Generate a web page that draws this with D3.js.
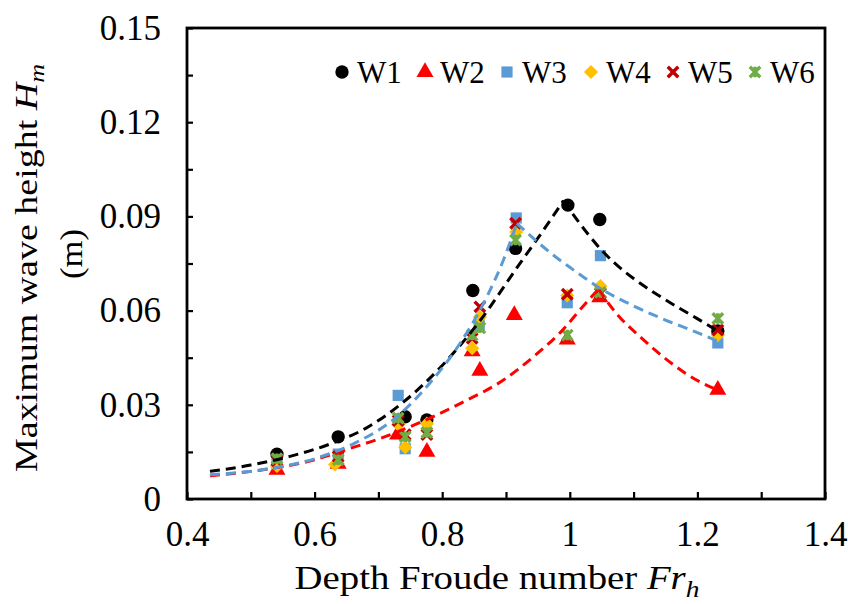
<!DOCTYPE html>
<html>
<head>
<meta charset="utf-8">
<script src="https://cdn.jsdelivr.net/npm/d3@7"></script>
<style>
  html, body { margin: 0; padding: 0; background: #fff; }
  svg { display: block; }
  text { font-family: "Liberation Serif", "Times New Roman", serif; fill: #000; }
</style>
</head>
<body>
<svg id="chart" width="848" height="604"></svg>
<script>
// Maximum wave height against depth Froude number, six wave cases
const seriesNames = ["W1", "W2", "W3", "W4", "W5", "W6"];
const seriesColors = ["#000000", "#FF0000", "#5B9BD5", "#FFC000", "#C00000", "#70AD47"];

const w1Fr = [0.541, 0.637, 0.742, 0.776, 0.848, 0.915, 0.997, 1.047, 1.232];
const w1Hm = [0.0143, 0.0198, 0.0262, 0.0252, 0.0664, 0.0798, 0.0936, 0.0890, 0.0535];

const w2Fr = [0.541, 0.637, 0.730, 0.776, 0.847, 0.859, 0.913, 0.996, 1.047, 1.232];
const w2Hm = [0.0093, 0.0112, 0.0205, 0.0150, 0.0470, 0.0408, 0.0586, 0.0508, 0.0642, 0.0348];

const w3Fr = [0.541, 0.637, 0.731, 0.742, 0.858, 0.916, 0.996, 1.048, 1.232];
const w3Hm = [0.0112, 0.0143, 0.0330, 0.0160, 0.0555, 0.0895, 0.0625, 0.0775, 0.0497];

const w4Fr = [0.541, 0.632, 0.731, 0.742, 0.776, 0.847, 0.859, 0.916, 0.996, 1.048, 1.232];
const w4Hm = [0.0105, 0.0110, 0.0237, 0.0165, 0.0240, 0.0480, 0.0580, 0.0850, 0.0648, 0.0678, 0.0522];

const w5Fr = [0.541, 0.637, 0.731, 0.742, 0.776, 0.847, 0.859, 0.915, 0.996, 1.048, 1.232];
const w5Hm = [0.0122, 0.0135, 0.0250, 0.0205, 0.0205, 0.0512, 0.0612, 0.0878, 0.0652, 0.0655, 0.0538];

const w6Fr = [0.541, 0.637, 0.731, 0.742, 0.776, 0.847, 0.859, 0.915, 0.996, 1.048, 1.232];
const w6Hm = [0.0128, 0.0125, 0.0258, 0.0198, 0.0212, 0.0522, 0.0545, 0.0825, 0.0522, 0.0658, 0.0575];

// Dashed trend curves (W1 black, W2 red, W3 blue): rising branch, then falling branch
const trendW1RiseFr = [0.436, 0.50, 0.56, 0.62, 0.68, 0.74, 0.80, 0.86, 0.92, 0.96, 0.99];
const trendW1RiseHm = [0.0088, 0.0108, 0.0135, 0.0172, 0.0225, 0.0310, 0.0425, 0.0570, 0.0745, 0.0860, 0.0950];
const trendW1FallFr = [0.99, 1.01, 1.03, 1.05, 1.07, 1.10, 1.13, 1.16, 1.19, 1.215, 1.232];
const trendW1FallHm = [0.0950, 0.0893, 0.0840, 0.0792, 0.0752, 0.0702, 0.0660, 0.0622, 0.0586, 0.0556, 0.0535];

const trendW2RiseFr = [0.436, 0.512, 0.60, 0.663, 0.703, 0.752, 0.828, 0.896, 0.943, 0.985, 1.026, 1.045];
const trendW2RiseHm = [0.0074, 0.0091, 0.0125, 0.0166, 0.0193, 0.0232, 0.0304, 0.0379, 0.0453, 0.0530, 0.0626, 0.0668];
const trendW2FallFr = [1.045, 1.073, 1.11, 1.147, 1.183, 1.215, 1.232];
const trendW2FallHm = [0.0668, 0.0591, 0.0517, 0.0452, 0.0398, 0.0362, 0.0348];

const trendW3RiseFr = [0.436, 0.517, 0.60, 0.663, 0.723, 0.781, 0.828, 0.870, 0.896, 0.917];
const trendW3RiseHm = [0.0077, 0.0093, 0.0128, 0.0178, 0.0252, 0.0370, 0.0496, 0.0644, 0.0761, 0.0878];
const trendW3FallFr = [0.917, 0.943, 0.974, 1.00, 1.05, 1.10, 1.15, 1.20, 1.232];
const trendW3FallHm = [0.0878, 0.0830, 0.0777, 0.0738, 0.0668, 0.0615, 0.0570, 0.0530, 0.0502];

const xTickValues = [0.4, 0.5, 0.6, 0.7, 0.8, 0.9, 1.0, 1.1, 1.2, 1.3, 1.4];
const xTickLabels = ["0.4", "", "0.6", "", "0.8", "", "1", "", "1.2", "", "1.4"];
const yTickValues = [0, 0.015, 0.03, 0.045, 0.06, 0.075, 0.09, 0.105, 0.12, 0.135, 0.15];
const yTickLabels = ["0", "", "0.03", "", "0.06", "", "0.09", "", "0.12", "", "0.15"];

const svg = d3.select("#chart");
const plot = { left: 187, right: 825, top: 28, bottom: 499 };

const x = d3.scaleLinear().domain([0.4, 1.4]).range([plot.left, plot.right]);
const y = d3.scaleLinear().domain([0, 0.15]).range([plot.bottom, plot.top]);

// Axes with inward ticks
const xAxis = d3.axisBottom(x).tickValues(xTickValues).tickSize(-7).tickPadding(22)
  .tickFormat((d, i) => xTickLabels[i]);
const yAxis = d3.axisLeft(y).tickValues(yTickValues).tickSize(-6).tickPadding(26)
  .tickFormat((d, i) => yTickLabels[i]);

const gx = svg.append("g").attr("transform", `translate(0,${plot.bottom})`).call(xAxis);
const gy = svg.append("g").attr("transform", `translate(${plot.left},0)`).call(yAxis);
[gx, gy].forEach(g => {
  g.select(".domain").remove();
  g.selectAll(".tick line").attr("stroke", "#000").attr("stroke-width", 2.2);
  g.selectAll(".tick text").attr("font-size", 35).attr("font-family", "Liberation Serif").attr("fill", "#000");
});

// Plot frame
svg.append("rect")
  .attr("x", plot.left).attr("y", plot.top)
  .attr("width", plot.right - plot.left).attr("height", plot.bottom - plot.top)
  .attr("fill", "none").attr("stroke", "#000").attr("stroke-width", 2.8);

// Marker shapes
const starSymbol = {
  draw(ctx, size) {
    const r = Math.sqrt(size) / 2;
    ctx.moveTo(-r, -r); ctx.lineTo(r, r);
    ctx.moveTo(-r, r); ctx.lineTo(r, -r);
    ctx.moveTo(0, -r); ctx.lineTo(0, r);
  }
};
const timesSymbol = {
  draw(ctx, size) {
    const r = Math.sqrt(size) / 2;
    ctx.moveTo(-r, -r); ctx.lineTo(r, r);
    ctx.moveTo(-r, r); ctx.lineTo(r, -r);
  }
};
// Square rotated by 45 degrees
const squareDiamond = {
  draw(ctx, size) {
    const r = Math.sqrt(size / 2);
    ctx.moveTo(0, -r); ctx.lineTo(r, 0); ctx.lineTo(0, r); ctx.lineTo(-r, 0); ctx.closePath();
  }
};
const markerStyles = [
  { type: d3.symbolCircle, size: 140, fill: true },
  { type: d3.symbolTriangle, size: 125, fill: true },
  { type: d3.symbolSquare, size: 125, fill: true },
  { type: squareDiamond, size: 100, fill: true },
  { type: timesSymbol, size: 110, fill: false },
  { type: starSymbol, size: 110, fill: false }
];

function drawMarker(sel, i) {
  const m = markerStyles[i];
  sel.attr("d", d3.symbol().type(m.type).size(m.size)())
    .attr("fill", m.fill ? seriesColors[i] : "none")
    .attr("stroke", m.fill ? "none" : seriesColors[i])
    .attr("stroke-width", m.fill ? 0 : 3.4);
}

const seriesFr = [w1Fr, w2Fr, w3Fr, w4Fr, w5Fr, w6Fr];
const seriesHm = [w1Hm, w2Hm, w3Hm, w4Hm, w5Hm, w6Hm];

seriesNames.forEach((name, i) => {
  const pts = seriesFr[i].map((f, k) => [f, seriesHm[i][k]]);
  svg.append("g").selectAll("path").data(pts).join("path")
    .attr("transform", d => `translate(${x(d[0])},${y(d[1])})`)
    .call(drawMarker, i);
});

// Dashed trend curves on top of the markers
const line = d3.line().x(d => x(d[0])).y(d => y(d[1])).curve(d3.curveMonotoneX);
const trends = [
  { fr: trendW1RiseFr, hm: trendW1RiseHm, color: "#000000" },
  { fr: trendW1FallFr, hm: trendW1FallHm, color: "#000000" },
  { fr: trendW2RiseFr, hm: trendW2RiseHm, color: "#FF0000" },
  { fr: trendW2FallFr, hm: trendW2FallHm, color: "#FF0000" },
  { fr: trendW3RiseFr, hm: trendW3RiseHm, color: "#5B9BD5" },
  { fr: trendW3FallFr, hm: trendW3FallHm, color: "#5B9BD5" }
];
trends.forEach(t => {
  svg.append("path")
    .datum(t.fr.map((f, k) => [f, t.hm[k]]))
    .attr("d", line)
    .attr("fill", "none")
    .attr("stroke", t.color)
    .attr("stroke-width", 3)
    .attr("stroke-dasharray", "10,6");
});

// Legend
const legendX = [342, 425, 507, 591, 673, 755];
const legend = svg.append("g");
seriesNames.forEach((name, i) => {
  legend.append("path")
    .attr("transform", `translate(${legendX[i]},72)`)
    .call(drawMarker, i);
  legend.append("text")
    .attr("x", legendX[i] + 15).attr("y", 83)
    .attr("font-size", 31)
    .text(name);
});

// Stretch a title group along its reading direction to a target length
function fitLength(g, textSel, target, baseTransform) {
  const w = textSel.node().getBBox().width;
  g.attr("transform", `${baseTransform} scale(${target / w},1)`);
}

// Axis titles
const gxTitle = svg.append("g");
const xTitle = gxTitle.append("text")
  .attr("text-anchor", "middle")
  .attr("font-size", 34);
xTitle.append("tspan").text("Depth Froude number ");
xTitle.append("tspan").attr("font-style", "italic").text("Fr");
xTitle.append("tspan").attr("font-style", "italic").attr("font-size", 24).attr("dy", 8).text("h");
fitLength(gxTitle, xTitle, 405, "translate(497,589)");

const gyTitle = svg.append("g");
const yTitle = gyTitle.append("text")
  .attr("text-anchor", "middle")
  .attr("font-size", 32);
yTitle.append("tspan").text("Maximum wave height ");
yTitle.append("tspan").attr("font-style", "italic").text("H");
yTitle.append("tspan").attr("font-style", "italic").attr("font-size", 22).attr("dy", 7).text("m");
fitLength(gyTitle, yTitle, 408, "translate(37,268) rotate(-90)");

const gUnit = svg.append("g");
const unit = gUnit.append("text")
  .attr("text-anchor", "middle")
  .attr("font-size", 32)
  .text("(m)");
fitLength(gUnit, unit, 50, "translate(82,254) rotate(-90)");
</script>
</body>
</html>
